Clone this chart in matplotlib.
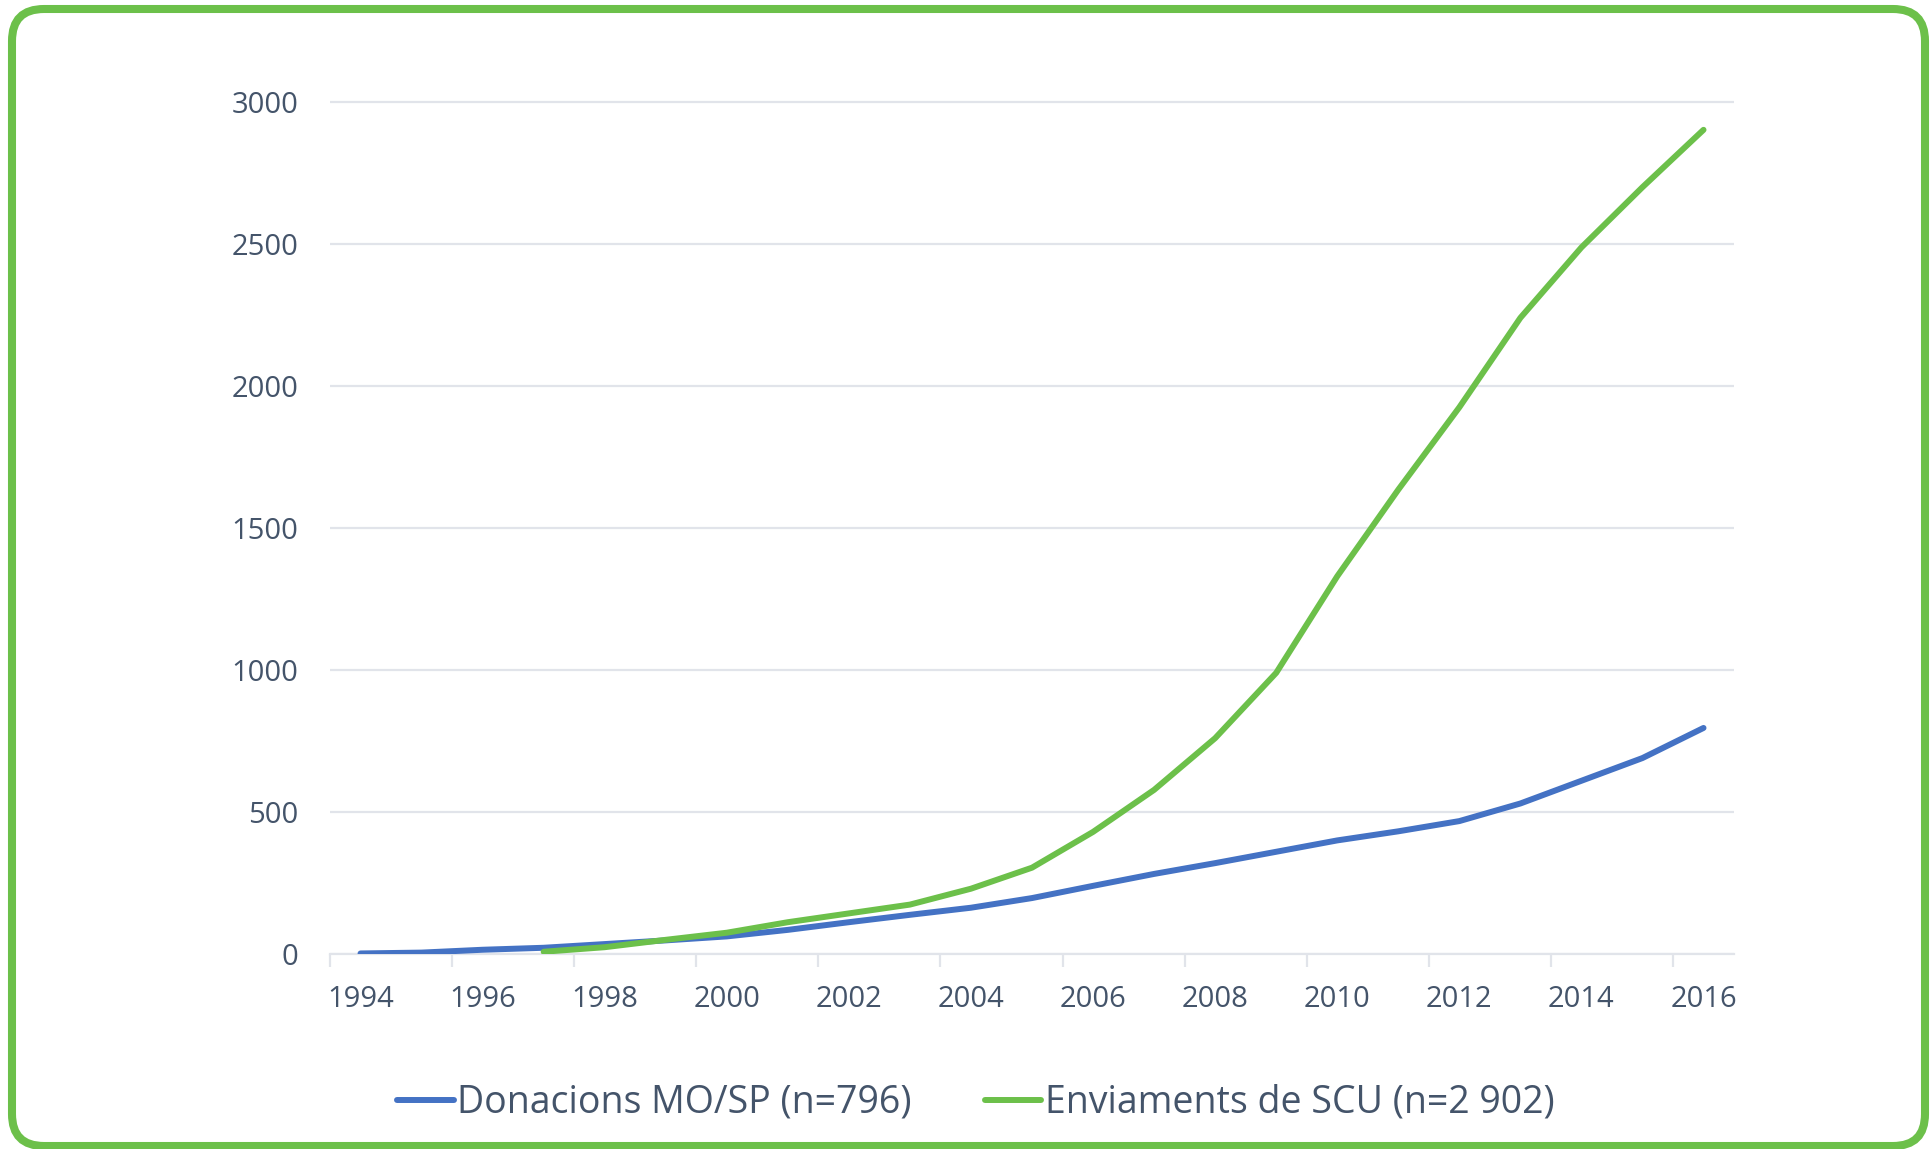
import numpy as np
import matplotlib.pyplot as plt
from matplotlib.patches import FancyBboxPatch

years = list(range(1994, 2017))
donacions = [2, 5, 15, 22, 35, 48, 62, 85, 112, 138, 163, 197, 240, 282, 320,
             360, 400, 432, 468, 530, 610, 690, 796]
enviaments_years = list(range(1997, 2017))
enviaments = [8, 24, 50, 75, 112, 143, 174, 230, 304, 430, 578, 760, 990, 1330,
              1635, 1925, 2240, 2488, 2700, 2902]
lbl_don = "Donacions MO/SP (n=796)"
lbl_env = "Enviaments de SCU (n=2 902)"

blau = "#4472C4"
verd = "#6CC04A"
text_c = "#44546A"
grid_c = "#E1E4EA"

plt.rcParams['font.family'] = ['Open Sans', 'DejaVu Sans']

fig = plt.figure(figsize=(19.31, 11.49), dpi=100)
ax = fig.add_axes([0.1709, 0.1697, 0.898 - 0.1709, 0.9236 - 0.1697])

x_don = np.arange(len(years))
x_env = np.array([years.index(a) for a in enviaments_years])
ax.plot(x_don, donacions, color=blau, lw=4.3, solid_capstyle="round", label=lbl_don, zorder=3)
ax.plot(x_env, enviaments, color=verd, lw=4.3, solid_capstyle="round", label=lbl_env, zorder=3)

ax.set_xlim(-0.5, len(years) - 0.5)
ax.set_ylim(0, 3050)
ax.set_yticks(np.arange(0, 3001, 500))
ax.grid(axis="y", color=grid_c, lw=1.6, zorder=0)

# ticks between categories, labels every two years
ax.set_xticks(np.arange(-0.5, len(years) - 1, 2))
ax.set_xticklabels([])
ax.set_xticks(np.arange(0, len(years), 2), minor=True)
ax.set_xticklabels([str(a) for a in years[::2]], minor=True)
ax.tick_params(axis="x", which="major", length=9, width=1.6, color=grid_c)
ax.tick_params(axis="x", which="minor", length=0, pad=22, labelsize=21, labelcolor=text_c)
ax.tick_params(axis="y", length=0, pad=23, labelsize=21, labelcolor=text_c)

for s in ["top", "right", "left"]:
    ax.spines[s].set_visible(False)
ax.spines["bottom"].set_color(grid_c)
ax.spines["bottom"].set_linewidth(1.6)

fig.legend(loc="center", bbox_to_anchor=(0.5055, 1 - 1103 / 1149), ncol=2, frameon=False,
           fontsize=27, labelcolor=text_c, handlelength=1.5, handletextpad=0.1,
           columnspacing=1.95)

vora = FancyBboxPatch((12, 3), 1913, 1137, boxstyle="round,pad=0,rounding_size=32",
                      transform=None, fill=False, edgecolor=verd, lw=5.8)
fig.patches.append(vora)

fig.savefig("out.png", dpi=100)
plt.close()
